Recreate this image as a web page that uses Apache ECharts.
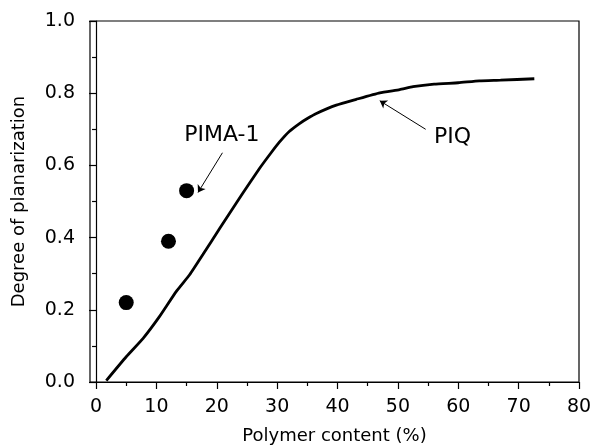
<!DOCTYPE html>
<html>
<head>
<meta charset="utf-8">
<script src="https://cdn.jsdelivr.net/npm/echarts@6/dist/echarts.min.js"></script>
<style>html,body{margin:0;padding:0;background:#fff}#c{width:591px;height:445px}</style>
</head>
<body>
<div id="c"></div>
<script>
// PIQ curve
const piqX = [1.7, 5.0, 7.8, 10.5, 13.3, 15.5, 17.7, 20.5, 24.3, 27.1, 29.0, 30.4, 32.0, 33.7, 35.0, 36.5, 39.8, 43.1, 47.0, 50.3, 52.5, 56.0, 60.0, 63.5, 67.0, 72.6];
const piqY = [0.004, 0.070, 0.121, 0.181, 0.251, 0.297, 0.353, 0.426, 0.523, 0.592, 0.635, 0.665, 0.694, 0.716, 0.730, 0.744, 0.767, 0.783, 0.801, 0.810, 0.818, 0.825, 0.829, 0.834, 0.836, 0.840];
// PIMA-1 points
const pimaX = [5, 12, 15];
const pimaY = [0.22, 0.39, 0.53];
// tick labels
const xLabels = [0, 10, 20, 30, 40, 50, 60, 70, 80];
const xMinorTicks = [5, 15, 25, 35, 45, 55, 65, 75];
// annotations
const annText = ['PIMA-1', 'PIQ'];
const annPos = [[20.85, 0.684], [59.05, 0.678]];
const arrowFrom = [[20.94, 0.635], [54.6, 0.700]];
const arrowTo = [[16.89, 0.525], [47.0, 0.779]];

const FONT = 'DejaVu Sans';
const chart = echarts.init(document.getElementById('c'));
chart.setOption({
  animation: false,
  backgroundColor: '#fff',
  grid: { left: 90, right: 12, top: 21, bottom: 63, show: true, borderColor: '#000', borderWidth: 1.2, backgroundColor: 'transparent', containLabel: false, outerBoundsMode: 'none' },
  xAxis: [{
    type: 'value', min: -1, max: 80,
    name: 'Polymer content (%)', nameLocation: 'middle', nameGap: 45,
    nameTextStyle: { fontFamily: FONT, fontSize: 18, color: '#000' },
    axisLine: { show: true, lineStyle: { color: '#000', width: 1.2 } },
    axisTick: { show: true, inside: false, length: 7, customValues: xLabels, lineStyle: { color: '#000', width: 1.2 } },
    axisLabel: { customValues: xLabels, margin: 16, fontFamily: FONT, fontSize: 19, color: '#000' },
    splitLine: { show: false }
  }, {
    type: 'value', min: -1, max: 80, position: 'bottom',
    axisLine: { show: false },
    axisTick: { show: true, length: 4, customValues: xMinorTicks, lineStyle: { color: '#000', width: 1.2 } },
    axisLabel: { show: false },
    splitLine: { show: false }
  }],
  yAxis: {
    type: 'value', min: 0, max: 1, interval: 0.2,
    name: 'Degree of planarization', nameLocation: 'middle', nameGap: 62,
    nameTextStyle: { fontFamily: FONT, fontSize: 18, color: '#000' },
    axisLine: { show: true, lineStyle: { color: '#000', width: 1.2 } },
    axisTick: { show: true, length: 7, lineStyle: { color: '#000', width: 1.2 } },
    minorTick: { show: true, splitNumber: 2, length: 4, lineStyle: { color: '#000', width: 1.2 } },
    axisLabel: { margin: 15, fontFamily: FONT, fontSize: 19, color: '#000', formatter: v => v.toFixed(1) },
    splitLine: { show: false }
  },
  series: [{
    name: 'PIQ', type: 'line', xAxisIndex: 0,
    data: piqX.map((x, i) => [x, piqY[i]]),
    showSymbol: false, symbol: 'none', smooth: 0.15,
    lineStyle: { color: '#000', width: 2.8 },
    markLine: {
      silent: true, symbol: ['none', 'arrow'], symbolSize: 7,
      label: { show: false },
      lineStyle: { color: '#000', width: 1, type: 'solid' },
      data: arrowFrom.map((f, i) => [{ coord: f }, { coord: arrowTo[i] }])
    }
  }, {
    name: 'PIMA-1', type: 'scatter', xAxisIndex: 0,
    data: pimaX.map((x, i) => [x, pimaY[i]]),
    symbol: 'circle', symbolSize: 15,
    itemStyle: { color: '#000', opacity: 1 }
  }, {
    name: 'labels', type: 'scatter', xAxisIndex: 0,
    data: annPos.map((p, i) => ({ value: p, name: annText[i] })),
    symbolSize: 0, silent: true,
    itemStyle: { color: '#000', opacity: 1 },
    label: { show: true, position: 'inside', formatter: p => p.name, fontFamily: FONT, fontSize: 22, color: '#000', opacity: 1 }
  }]
});
</script>
</body>
</html>
